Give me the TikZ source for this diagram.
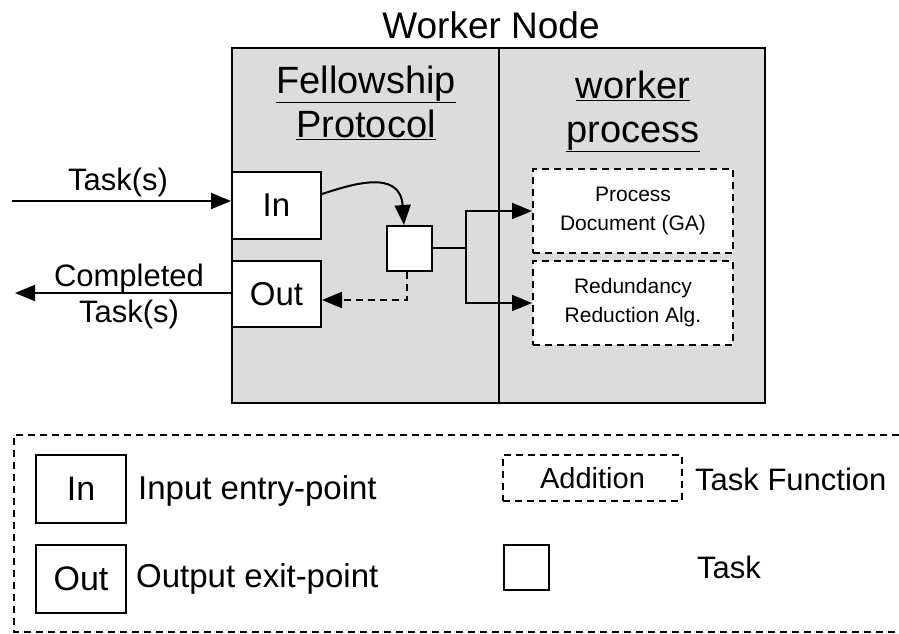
\documentclass[tikz,border=0pt]{standalone}
\usepackage{fontspec}
\setmainfont{Liberation Sans}
\usetikzlibrary{arrows.meta}
\definecolor{panelgray}{HTML}{DCDCDC}
\tikzset{
  panel/.style={draw=black, line width=2pt, fill=panelgray, inner sep=0pt},
  portbox/.style={draw=black, line width=2pt, fill=white, inner sep=0pt,
     font=\fontsize{33}{36}\selectfont},
  taskbox/.style={draw=black, line width=2pt, fill=white, inner sep=0pt,
     minimum width=45pt, minimum height=45pt},
  funcbox/.style={draw=black, line width=2pt, dash pattern=on 7pt off 5pt,
     fill=white, inner sep=0pt, align=center,
     font=\fontsize{21}{29}\selectfont},
  heading/.style={anchor=base, inner sep=0pt, font=\fontsize{38}{44}\selectfont},
  lbl/.style={inner sep=0pt, font=\fontsize{31}{36}\selectfont},
  legtext/.style={inner sep=0pt, anchor=west, font=\fontsize{33}{38}\selectfont},
  conn/.style={line width=2pt, -{Triangle[length=20pt,width=16pt]}},
  dconn/.style={line width=2pt, dash pattern=on 7pt off 5pt, -{Triangle[length=20pt,width=16pt]}},
  plain/.style={line width=2pt},
}
\begin{document}
\begin{tikzpicture}[x=1pt,y=-1pt]
\fill[white] (0,0) rectangle (899,633);
\useasboundingbox (0,0) rectangle (899,633);
\node[anchor=base, inner sep=0pt, font=\fontsize{37}{42}\selectfont] (title) at (491,38) {Worker Node};
\node[panel, minimum width=267pt, minimum height=355pt] (fp) at (365.5,225.5) {};
\node[panel, minimum width=266pt, minimum height=355pt] (wp) at (632,225.5) {};
\node[heading] (fel) at (366,93) {\underline{Fellowship}};
\node[heading] (prot) at (366,137) {\underline{Protocol}};
\node[heading] (wrk) at (633,98) {\underline{worker}};
\node[heading] (proc) at (633,142) {\underline{process}};
\node[portbox, minimum width=89pt, minimum height=67pt] (in) at (276.5,205.5) {In};
\node[portbox, minimum width=89pt, minimum height=66pt] (out) at (276.5,294) {Out};
\node[taskbox] (task) at (409.5,248.5) {};
\node[funcbox, minimum width=200pt, minimum height=84pt] (pd) at (633,211) {Process\\Document (GA)};
\node[funcbox, minimum width=200pt, minimum height=84pt] (rr) at (633,303) {Redundancy\\Reduction Alg.};
\coordinate (tin) at (12,201);
\coordinate (tout) at (15,293);
\draw[conn] (tin) -- (in.west |- tin);
\draw[conn] (out.west |- tout) -- (tout);
\node[lbl] (tlab) at (118,182) {Task(s)};
\node[lbl, align=center] (clab) at (129,296) {Completed\\Task(s)};
\draw[conn] (in.east |- 0,194) .. controls (350,185) and (400,168) .. (task.north -| 404,0);
\draw[dconn] (task.south -| 407,0) -- (407,300) -- (out.east |- 0,300);
\coordinate (split) at (466,248);
\draw[plain] (task.east |- split) -- (split);
\draw[conn] (split) |- (pd.west);
\draw[conn] (split) |- (rr.west);
\draw[line width=2pt, dash pattern=on 7pt off 5pt] (899,435) -- (14,435) -- (14,632) -- (899,632);
\node[portbox, minimum width=90pt, minimum height=68pt, font=\fontsize{34}{38}\selectfont] (lin) at (81,489) {In};
\node[portbox, minimum width=90pt, minimum height=68pt, font=\fontsize{34}{38}\selectfont] (lout) at (81,579) {Out};
\node[legtext] (lintext) at (138,491) {Input entry-point};
\node[legtext] (louttext) at (136,579) {Output exit-point};
\node[funcbox, minimum width=179pt, minimum height=46pt, font=\fontsize{29}{34}\selectfont] (ladd) at (592.5,478) {Addition};
\node[legtext, font=\fontsize{31}{36}\selectfont] (lfunc) at (695,479) {Task Function};
\node[taskbox] (ltask) at (526,567.5) {};
\node[legtext, font=\fontsize{31}{36}\selectfont] (ltasktext) at (697,567) {Task};
\end{tikzpicture}
\end{document}
